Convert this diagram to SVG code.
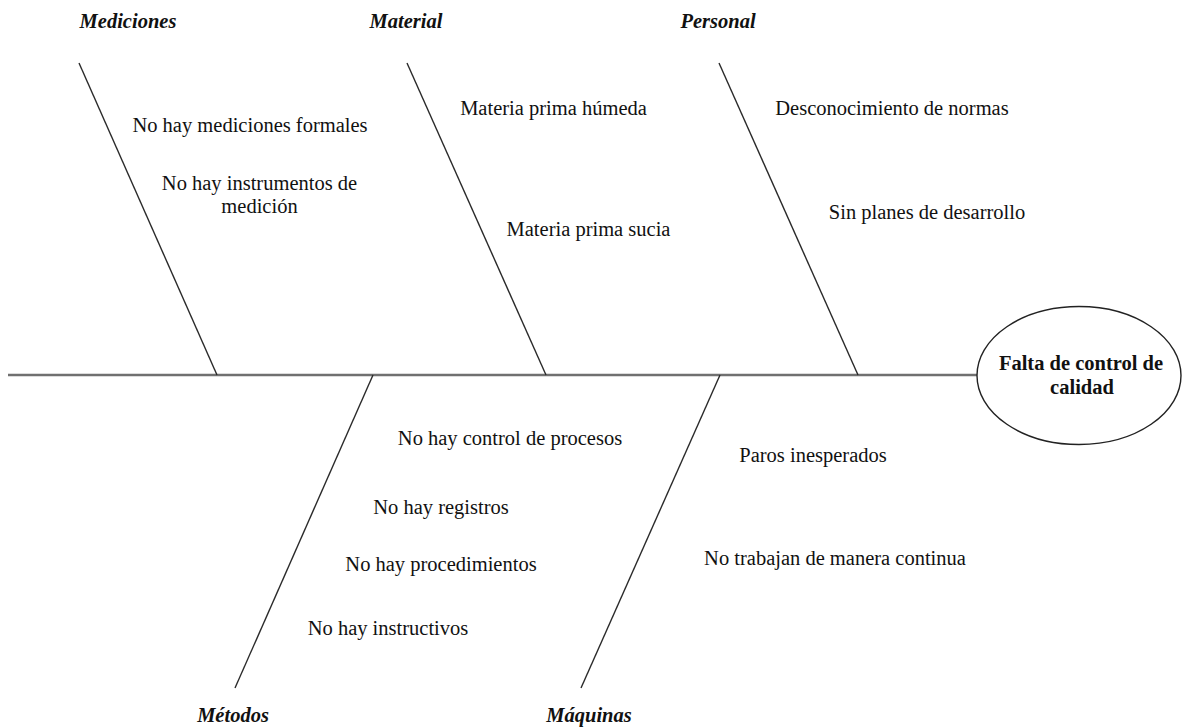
<svg xmlns="http://www.w3.org/2000/svg" width="1182" height="728" viewBox="0 0 1182 728">
<style>
.t{font-family:"Liberation Serif","Times New Roman",serif;font-size:20.5px;fill:#111;text-anchor:middle}
.c{font-weight:bold;font-style:italic}
.b{font-weight:bold}
.bone{stroke:#2a2a2a;stroke-width:1.4;fill:none}
.spine{stroke:#707070;stroke-width:2.6;fill:none}
</style>
<rect width="1182" height="728" fill="#ffffff"/>
<g id="connectors">
<line class="spine" x1="8" y1="375" x2="977" y2="375"/>
<line class="bone" x1="79" y1="63" x2="217" y2="375"/>
<line class="bone" x1="407" y1="63" x2="546" y2="375"/>
<line class="bone" x1="719" y1="63" x2="858" y2="375"/>
<line class="bone" x1="373" y1="375" x2="235" y2="688"/>
<line class="bone" x1="720" y1="375" x2="581" y2="688"/>
</g>
<g id="effect">
<ellipse cx="1079" cy="375.5" rx="102" ry="69" fill="#fff" stroke="#222" stroke-width="1.4"/>
<text class="t b" x="1081" y="370">Falta de control de</text>
<text class="t b" x="1082" y="394">calidad</text>
</g>
<g id="mediciones">
<text class="t c" x="128" y="28">Mediciones</text>
<text class="t" x="250" y="132">No hay mediciones formales</text>
<text class="t" x="259.5" y="190">No hay instrumentos de</text>
<text class="t" x="259.5" y="213">medición</text>
</g>
<g id="material">
<text class="t c" x="406" y="28">Material</text>
<text class="t" x="553.5" y="115">Materia prima húmeda</text>
<text class="t" x="588.5" y="236">Materia prima sucia</text>
</g>
<g id="personal">
<text class="t c" x="718" y="28">Personal</text>
<text class="t" x="892" y="115">Desconocimiento de normas</text>
<text class="t" x="927" y="219">Sin planes de desarrollo</text>
</g>
<g id="metodos">
<text class="t c" x="233" y="722">Métodos</text>
<text class="t" x="510" y="445">No hay control de procesos</text>
<text class="t" x="441" y="514">No hay registros</text>
<text class="t" x="441" y="571">No hay procedimientos</text>
<text class="t" x="388" y="635">No hay instructivos</text>
</g>
<g id="maquinas">
<text class="t c" x="589" y="722">Máquinas</text>
<text class="t" x="813" y="462">Paros inesperados</text>
<text class="t" x="835" y="565">No trabajan de manera continua</text>
</g>
</svg>
